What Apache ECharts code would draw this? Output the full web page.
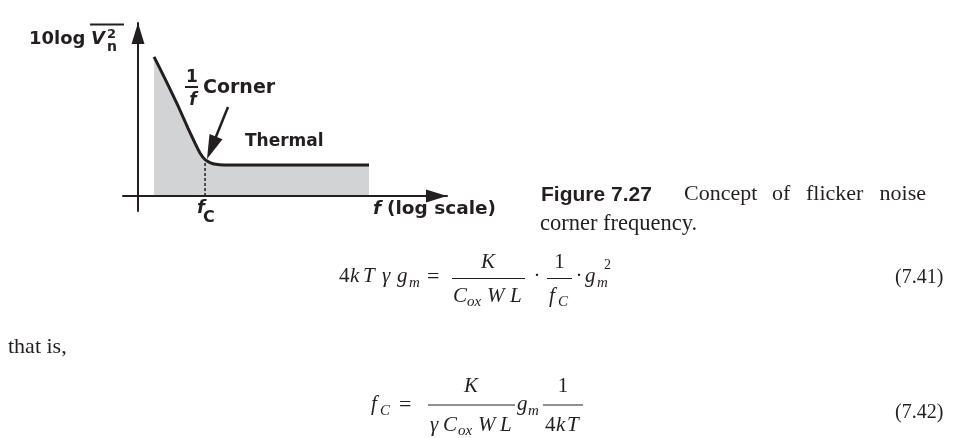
<!DOCTYPE html>
<html>
<head>
<meta charset="utf-8">
<script src="https://cdn.jsdelivr.net/npm/echarts@6/dist/echarts.min.js"></script>
<style>
html,body{margin:0;padding:0;background:#fff;}
#chart{width:960px;height:438px;}
</style>
</head>
<body>
<div id="chart"></div>
<script>
// ---- data (arbitrary units) ----
const freqX  = [1.07, 1.87, 2.67, 3.33, 3.8, 4.13, 4.47, 4.8, 5.2, 5.73, 15.4];
const noiseY = [9.27, 7.67, 6.0, 4.53, 3.53, 2.87, 2.43, 2.23, 2.11, 2.07, 2.07];
const cornerX = [4.47, 4.47];
const cornerY = [0, 2.43];
const arrowFrom = [6.0, 5.93];
const arrowTo = [4.9, 3.21];
const axisRangeX = [-1, 20.6];
const axisRangeY = [-1, 11.53];

const INK = '#231f20';
const SANS = '"DejaVu Sans", sans-serif';
const SERIF = '"Liberation Serif", "Times New Roman", serif';

function T(x, base, s, o) {
  o = o || {};
  const size = o.size || 21;
  return {
    type: 'text', x: x, y: base - 0.34 * size, silent: true, z: 50,
    style: {
      text: s, fill: INK, fontSize: size,
      fontFamily: o.family || SERIF,
      fontWeight: o.weight || 'normal',
      fontStyle: o.style || 'normal',
      align: o.align || 'left', verticalAlign: 'middle'
    }
  };
}
function L(x1, y1, x2, y2, w) {
  return { type: 'line', silent: true, z: 50,
    shape: { x1: x1, y1: y1, x2: x2, y2: y2 },
    style: { stroke: INK, lineWidth: w || 1 } };
}
const B = { family: SANS, weight: 'bold' };
const BI = { family: SANS, weight: 'bold', style: 'italic' };
const CB = { family: '"Liberation Sans", sans-serif', weight: 'bold', size: 21 };
function sz(o, size, extra) { return Object.assign({}, o, { size: size }, extra || {}); }
const I = { style: 'italic' };

const graphics = [
  // chart labels
  T(29, 45, '10log', sz(B, 18)),
  T(91, 45, 'V', sz(BI, 18)),
  L(90, 24.5, 124, 24.5, 2),
  T(107, 39.5, '2', sz(B, 13)),
  T(107, 52, 'n', sz(B, 14)),
  T(192, 83, '1', sz(B, 17, { align: 'center' })),
  L(185, 87, 198, 87, 2),
  T(193, 106, 'f', sz(BI, 17, { align: 'center' })),
  T(203, 95, 'Corner', sz(B, 19)),
  T(245, 147, 'Thermal', sz(B, 17)),
  T(197, 214, 'f', sz(BI, 18)),
  T(203, 223, 'C', sz(B, 16)),
  T(373, 215, 'f', sz(BI, 18.5)),
  T(387, 215, '(log scale)', sz(B, 18.5)),
  // caption
  T(541, 202, 'Figure 7.27', CB),
  T(684, 202, 'Concept', { size: 22 }),
  T(772, 202, 'of', { size: 22 }),
  T(806, 202, 'flicker', { size: 22 }),
  T(926, 202, 'noise', { size: 22, align: 'right' }),
  T(540, 232, 'corner frequency.', { size: 22.5 }),
  T(8, 355, 'that is,', { size: 22 }),
  // equation 7.41
  T(339, 284, '4'),
  T(350, 284, 'k', I),
  T(363, 284, 'T', I),
  T(382, 284, 'γ', I),
  T(397, 284, 'g', I),
  T(409, 288, 'm', sz(I, 15)),
  T(427, 285, '=', { size: 22 }),
  L(452, 278.5, 525, 278.5, 1),
  T(488, 270, 'K', sz(I, 21, { align: 'center' })),
  T(453, 304, 'C', I),
  T(467, 307, 'ox', sz(I, 15)),
  T(487, 304, 'W', I),
  T(510, 304, 'L', I),
  T(537, 284, '·', { size: 21, align: 'center' }),
  L(547, 278.5, 572, 278.5, 1),
  T(559.5, 270, '1', { size: 21, align: 'center' }),
  T(549, 304, 'f', I),
  T(558, 307, 'C', sz(I, 15)),
  T(579, 284, '·', { size: 21, align: 'center' }),
  T(585, 284, 'g', I),
  T(597, 288, 'm', sz(I, 15)),
  T(604, 270, '2', { size: 14 }),
  T(895, 285, '(7.41)', { size: 20 }),
  // equation 7.42
  T(371, 412, 'f', I),
  T(380, 416, 'C', sz(I, 15)),
  T(399, 413, '=', { size: 22 }),
  L(428, 405, 515, 405, 1),
  T(471, 394, 'K', sz(I, 21, { align: 'center' })),
  T(430, 433, 'γ', I),
  T(443, 433, 'C', I),
  T(458, 436, 'ox', sz(I, 15)),
  T(478, 433, 'W', I),
  T(500, 433, 'L', I),
  T(517, 412, 'g', I),
  T(528, 416, 'm', sz(I, 15)),
  L(543, 405, 583, 405, 1),
  T(563, 394, '1', { size: 21, align: 'center' }),
  T(545, 433, '4'),
  T(556, 433, 'k', I),
  T(567, 433, 'T', I),
  T(895, 420, '(7.42)', { size: 20 })
];

const axisCommon = {
  type: 'value', z: 10,
  axisLine: { show: true, onZero: true, symbol: ['none', 'triangle'], symbolSize: [13, 21],
    symbolOffset: [0, -10.5], lineStyle: { color: INK, width: 2 } },
  axisTick: { show: false }, axisLabel: { show: false }, splitLine: { show: false }
};

const chart = echarts.init(document.getElementById('chart'), null, { renderer: 'canvas' });
chart.setOption({
  animation: false,
  backgroundColor: '#ffffff',
  grid: { left: 123, top: 23, width: 324, height: 188, containLabel: false },
  xAxis: Object.assign({}, axisCommon, { min: axisRangeX[0], max: axisRangeX[1] }),
  yAxis: Object.assign({}, axisCommon, { min: axisRangeY[0], max: axisRangeY[1] }),
  series: [
    {
      type: 'line', z: 2, showSymbol: false, silent: true, smooth: 0.2,
      data: freqX.map((x, i) => [x, noiseY[i]]),
      lineStyle: { color: INK, width: 3 },
      areaStyle: { color: '#d1d3d4', opacity: 1, origin: 0 }
    },
    {
      type: 'line', z: 3, showSymbol: false, silent: true,
      data: cornerX.map((x, i) => [x, cornerY[i]]),
      lineStyle: { color: INK, width: 1.5, type: [3, 2] },
      markLine: {
        silent: true, animation: false, label: { show: false },
        lineStyle: { color: INK, width: 2.5, type: 'solid' },
        data: [[
          { coord: arrowFrom, symbol: 'none' },
          { coord: arrowTo, symbol: 'triangle', symbolSize: [14, 24] }
        ]]
      }
    }
  ],
  graphic: graphics
});
</script>
</body>
</html>
